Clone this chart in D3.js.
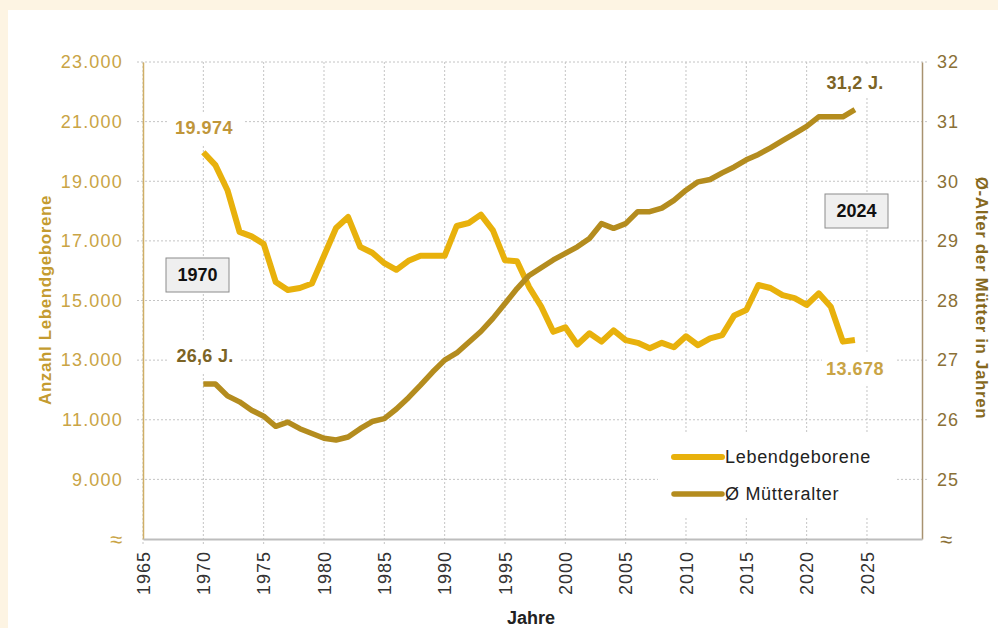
<!DOCTYPE html>
<html><head><meta charset="utf-8">
<script src="https://cdn.jsdelivr.net/npm/d3@7"></script>
<style>
html,body{margin:0;padding:0;background:#fdf4e3;}
svg{display:block;font-family:"Liberation Sans",Arial,sans-serif;}
</style></head>
<body>
<svg id="c" width="998" height="628"></svg>
<script>
const years = d3.range(1970, 2025);
const births = [19974,19540,18700,17300,17150,16900,15620,15350,15420,15570,
16500,17430,17800,16800,16600,16250,16030,16330,16500,16500,
16500,17500,17600,17880,17350,16350,16320,15450,14800,13950,
14100,13520,13900,13620,14000,13670,13580,13400,13580,13430,
13800,13500,13730,13840,14500,14680,15520,15420,15180,15080,
14850,15240,14790,13620,13678];
const motherAge = [26.6,26.6,26.4,26.3,26.16,26.06,25.89,25.96,25.85,25.77,
25.69,25.66,25.71,25.85,25.97,26.02,26.18,26.37,26.58,26.8,
27.0,27.12,27.3,27.48,27.7,27.95,28.2,28.42,28.55,28.68,
28.79,28.9,29.04,29.29,29.21,29.29,29.49,29.49,29.55,29.68,
29.85,29.99,30.03,30.14,30.24,30.36,30.45,30.56,30.68,30.8,
30.92,31.08,31.08,31.08,31.2];
const xTicks = [1965,1970,1975,1980,1985,1990,1995,2000,2005,2010,2015,2020,2025];
const leftTicks = [9000,11000,13000,15000,17000,19000,21000,23000];
const rightTicks = [25,26,27,28,29,30,31,32];
const seriesNames = ["Lebendgeborene","Ø Mütteralter"];

const C_BIRTH = "#e8b10c", C_AGE = "#b48c1e";
const C_LTXT = "#c9a445", C_RTXT = "#8a7036";

const svg = d3.select("#c");
svg.append("rect").attr("x",8).attr("y",10).attr("width",990).attr("height",618).attr("fill","#fff");

const L=143, R=922, T=62, B=539;
const x = d3.scaleLinear().domain([1965, 2029.56]).range([L, R]);
const yL = d3.scaleLinear().domain([7000, 23000]).range([B, T]);
const yR = d3.scaleLinear().domain([24, 32]).range([B, T]);

// grid
const grid = svg.append("g").attr("stroke","#c4c4c4").attr("stroke-width",1).attr("stroke-dasharray","2,2");
leftTicks.forEach(v=>grid.append("line").attr("x1",L-6).attr("x2",R+6).attr("y1",yL(v)).attr("y2",yL(v)));
xTicks.forEach(v=>grid.append("line").attr("x1",x(v)).attr("x2",x(v)).attr("y1",T).attr("y2",B+5));

// white boxes behind labels / legend
const wb = [[167,112,76,33],[168,342,72,30],[822,66,68,32],[822,352,75,33],[658,432,239,86]];
wb.forEach(b=>svg.append("rect").attr("x",b[0]).attr("y",b[1]).attr("width",b[2]).attr("height",b[3]).attr("fill","#fff"));

// axes
const axL = svg.append("g").attr("transform",`translate(${L},0)`).call(d3.axisLeft(yL).tickValues(leftTicks).tickSize(0).tickPadding(20).tickFormat(d=>d3.format(",")(d).replace(",", ".")));
axL.select(".domain").attr("stroke","#cfae66").attr("stroke-width",1.5);
axL.selectAll("text").attr("fill",C_LTXT).attr("font-size",18).attr("letter-spacing","1.2px");

const axR = svg.append("g").attr("transform",`translate(${R},0)`).call(d3.axisRight(yR).tickValues(rightTicks).tickSize(0).tickPadding(15));
axR.select(".domain").attr("stroke","#a89270").attr("stroke-width",1.5);
axR.selectAll("text").attr("fill",C_RTXT).attr("font-size",18).attr("letter-spacing","1px");

const axB = svg.append("g").attr("transform",`translate(0,${B})`).call(d3.axisBottom(x).tickValues(xTicks).tickSize(0).tickFormat(d3.format("d")));
axB.select(".domain").attr("stroke","#bdbdbd").attr("stroke-width",2);
axB.selectAll("text").attr("fill","#333").attr("font-size",18).attr("letter-spacing","1px")
  .attr("transform","rotate(-90)").attr("text-anchor","end").attr("dx",-12).attr("dy","0.35em").attr("x",0).attr("y",0);

// ≈ markers
svg.append("text").attr("x",L-27).attr("y",B).attr("dy","0.35em").attr("text-anchor","middle").attr("fill",C_LTXT).attr("font-size",22).text("≈");
svg.append("text").attr("x",R+24).attr("y",B).attr("dy","0.35em").attr("text-anchor","middle").attr("fill",C_RTXT).attr("font-size",22).text("≈");

// axis titles
svg.append("text").attr("transform",`translate(45,300) rotate(-90)`).attr("text-anchor","middle").attr("dy","0.35em")
  .attr("fill","#c49b30").attr("font-weight","bold").attr("font-size",17).attr("letter-spacing","0.6px").text("Anzahl Lebendgeborene");
svg.append("text").attr("transform",`translate(982,298) rotate(90)`).attr("text-anchor","middle").attr("dy","0.35em")
  .attr("fill","#86691e").attr("font-weight","bold").attr("font-size",17).attr("letter-spacing","0.6px").text("Ø-Alter der Mütter in Jahren");
svg.append("text").attr("x",531).attr("y",624).attr("text-anchor","middle")
  .attr("fill","#222").attr("font-weight","bold").attr("font-size",18).text("Jahre");

// lines
const lineB = d3.line().x((d,i)=>x(years[i])).y(d=>yL(d));
const lineA = d3.line().x((d,i)=>x(years[i])).y(d=>yR(d));
svg.append("path").datum(births).attr("d",lineB).attr("fill","none").attr("stroke",C_BIRTH).attr("stroke-width",6).attr("stroke-linejoin","round");
svg.append("path").datum(motherAge).attr("d",lineA).attr("fill","none").attr("stroke",C_AGE).attr("stroke-width",5.5).attr("stroke-linejoin","round");

// annotations
const fmtN = d=>d3.format(",")(d).replace(",", ".");
const fmtA = d=>d3.format(".1f")(d).replace(".", ",")+" J.";
svg.append("text").attr("x",204).attr("y",128).attr("dy","0.35em").attr("text-anchor","middle").attr("fill","#c0963a").attr("font-weight","bold").attr("font-size",18).attr("letter-spacing","0.5px").text(fmtN(births[0]));
svg.append("text").attr("x",205).attr("y",356).attr("dy","0.35em").attr("text-anchor","middle").attr("fill","#7c6426").attr("font-weight","bold").attr("font-size",18).attr("letter-spacing","0.3px").text(fmtA(motherAge[0]));
svg.append("text").attr("x",855).attr("y",83).attr("dy","0.35em").attr("text-anchor","middle").attr("fill","#7c6426").attr("font-weight","bold").attr("font-size",18).attr("letter-spacing","0.3px").text(fmtA(motherAge[motherAge.length-1]));
svg.append("text").attr("x",855).attr("y",369).attr("dy","0.35em").attr("text-anchor","middle").attr("fill","#c9a445").attr("font-weight","bold").attr("font-size",18).attr("letter-spacing","0.5px").text(fmtN(births[births.length-1]));

// year boxes
[[years[0],166,258],[years[years.length-1],825,194]].forEach(b=>{
  svg.append("rect").attr("x",b[1]).attr("y",b[2]).attr("width",63).attr("height",34).attr("fill","#efefef").attr("stroke","#8c8c8c").attr("stroke-width",1);
  svg.append("text").attr("x",b[1]+31.5).attr("y",b[2]+17).attr("dy","0.35em").attr("text-anchor","middle").attr("fill","#111").attr("font-weight","bold").attr("font-size",18).text(b[0]);
});

// legend
[[C_BIRTH,6,457],[C_AGE,5.5,494]].forEach((l,i)=>{
  svg.append("line").attr("x1",674).attr("x2",722).attr("y1",l[2]).attr("y2",l[2]).attr("stroke",l[0]).attr("stroke-width",l[1]).attr("stroke-linecap","round");
  svg.append("text").attr("x",725).attr("y",l[2]).attr("dy","0.35em").attr("fill","#222").attr("font-size",18).attr("letter-spacing","0.7px").text(seriesNames[i]);
});
</script>
</body></html>
